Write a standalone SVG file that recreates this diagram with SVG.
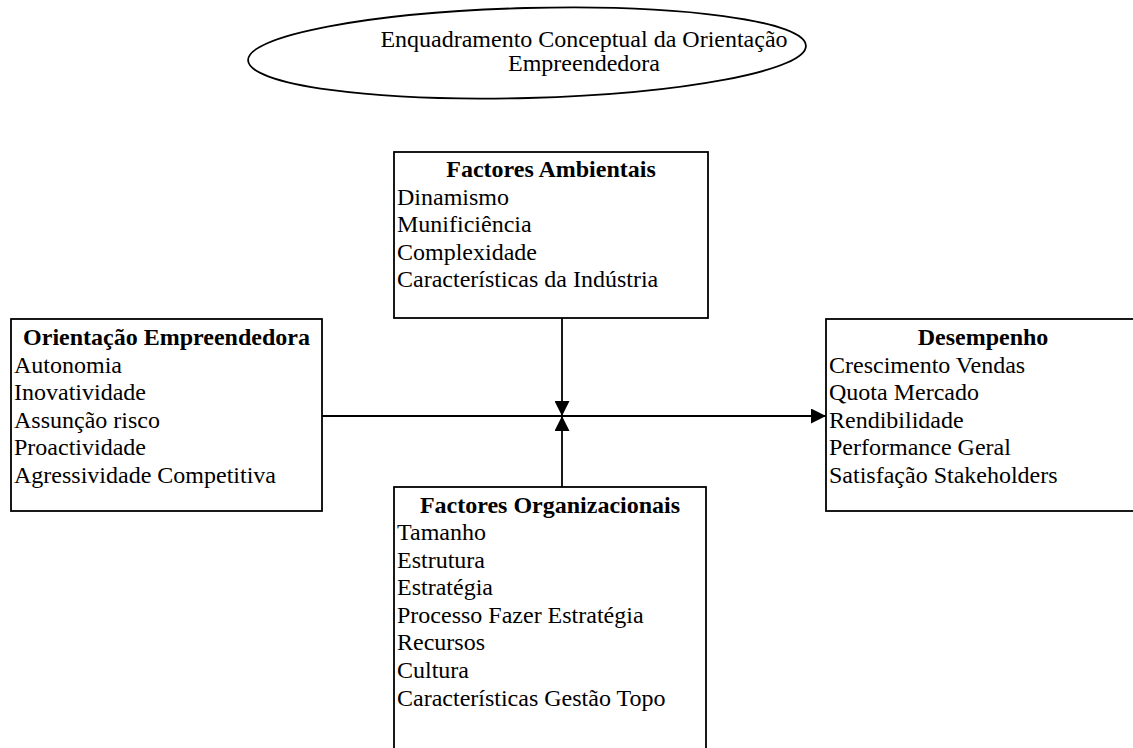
<svg xmlns="http://www.w3.org/2000/svg" width="1133" height="748" viewBox="0 0 1133 748">
  <style>
    .box { fill: #ffffff; stroke: #000000; stroke-width: 1.8; }
    .oval { fill: #ffffff; stroke: #000000; stroke-width: 1.8; }
    .line { fill: none; stroke: #000000; stroke-width: 1.8; }
    text { font-family: "Liberation Serif", "Times New Roman", serif; font-size: 24px; fill: #000000; }
    .title { font-weight: bold; text-anchor: middle; }
    .center { text-anchor: middle; }
  </style>
  <defs>
    <marker id="arrow" viewBox="0 0 10 10" refX="10" refY="5" markerWidth="15" markerHeight="15" markerUnits="userSpaceOnUse" orient="auto">
      <path d="M0,0 L10,5 L0,10 Z" fill="#000000"/>
    </marker>
  </defs>
  <rect width="1133" height="748" fill="#ffffff"/>

  <!-- heading oval, slightly tilted -->
  <g id="heading">
    <ellipse class="oval" cx="527" cy="53" rx="279" ry="45" transform="rotate(-1.5 527 53)"/>
    <text class="center" x="584" y="47">Enquadramento Conceptual da Orientação</text>
    <text class="center" x="584" y="71">Empreendedora</text>
  </g>

  <!-- connectors -->
  <g id="connectors">
    <line class="line" x1="322" y1="416" x2="826" y2="416" marker-end="url(#arrow)"/>
    <line class="line" x1="562" y1="318" x2="562" y2="416" marker-end="url(#arrow)"/>
    <line class="line" x1="562" y1="487" x2="562" y2="416" marker-end="url(#arrow)"/>
  </g>

  <!-- environmental factors -->
  <g id="factores-ambientais">
    <rect class="box" x="394" y="152" width="314" height="166"/>
    <text class="title" x="551" y="177">Factores Ambientais</text>
    <text x="397" y="204.6">Dinamismo</text>
    <text x="397" y="232.2">Munificiência</text>
    <text x="397" y="259.8">Complexidade</text>
    <text x="397" y="287.4">Características da Indústria</text>
  </g>

  <!-- entrepreneurial orientation -->
  <g id="orientacao-empreendedora">
    <rect class="box" x="11" y="319" width="311" height="192"/>
    <text class="title" x="166.5" y="345">Orientação Empreendedora</text>
    <text x="14" y="372.6">Autonomia</text>
    <text x="14" y="400.2">Inovatividade</text>
    <text x="14" y="427.8">Assunção risco</text>
    <text x="14" y="455.4">Proactividade</text>
    <text x="14" y="483">Agressividade Competitiva</text>
  </g>

  <!-- performance -->
  <g id="desempenho">
    <rect class="box" x="826" y="319" width="314" height="192"/>
    <text class="title" x="983" y="345">Desempenho</text>
    <text x="829" y="372.6">Crescimento Vendas</text>
    <text x="829" y="400.2">Quota Mercado</text>
    <text x="829" y="427.8">Rendibilidade</text>
    <text x="829" y="455.4">Performance Geral</text>
    <text x="829" y="483">Satisfação Stakeholders</text>
  </g>

  <!-- organisational factors -->
  <g id="factores-organizacionais">
    <rect class="box" x="394" y="487" width="312" height="270"/>
    <text class="title" x="550" y="513">Factores Organizacionais</text>
    <text x="397" y="540">Tamanho</text>
    <text x="397" y="567.6">Estrutura</text>
    <text x="397" y="595.2">Estratégia</text>
    <text x="397" y="622.8">Processo Fazer Estratégia</text>
    <text x="397" y="650.4">Recursos</text>
    <text x="397" y="678">Cultura</text>
    <text x="397" y="705.6">Características Gestão Topo</text>
  </g>
</svg>
